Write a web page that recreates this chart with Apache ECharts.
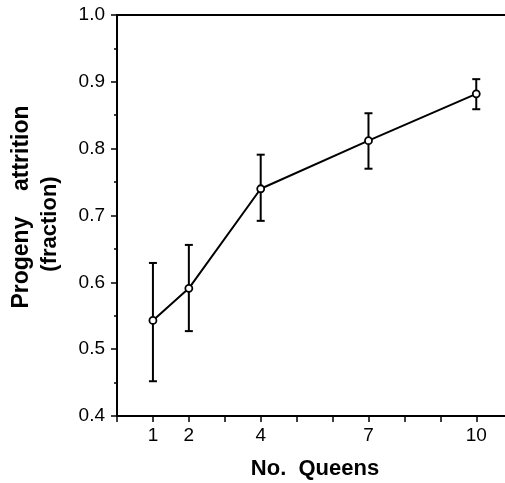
<!DOCTYPE html>
<html>
<head>
<meta charset="utf-8">
<script src="https://cdn.jsdelivr.net/npm/echarts@6/dist/echarts.min.js"></script>
<style>html,body{margin:0;padding:0;background:#fff;}#c{width:505px;height:483px;}</style>
</head>
<body>
<div id="c"></div>
<script>
var queens = [1, 2, 4, 7, 10];
var attrition = [0.543, 0.591, 0.740, 0.812, 0.882];
var errLow = [0.452, 0.527, 0.692, 0.770, 0.859];
var errHigh = [0.629, 0.656, 0.791, 0.853, 0.904];
var xTickLabels = [1, 2, 4, 7, 10];
var xTickMarks = [0, 1, 2, 3, 4, 5, 6, 7, 8, 9, 10];
var xTitle = 'No.  Queens';
var yTitle1 = 'Progeny    attrition';
var yTitle2 = '(fraction)';

var chart = echarts.init(document.getElementById('c'), null, {renderer: 'canvas'});
var FONT = 'Liberation Sans, Arial, Helvetica, sans-serif';
var lineData = queens.map(function (q, i) { return [q, attrition[i]]; });
var errData = queens.map(function (q, i) { return [q, errLow[i], errHigh[i]]; });

var option = {
  backgroundColor: '#fff',
  animation: false,
  grid: {left: 117, right: 0, top: 15, bottom: 67, containLabel: false},
  xAxis: [{
    type: 'value', min: 0, max: 10.8, interval: 1,
    axisLine: {show: true, lineStyle: {color: '#000', width: 2}},
    axisTick: {show: true, length: 6, customValues: xTickMarks, lineStyle: {color: '#000', width: 1.5}},
    splitLine: {show: false},
    axisLabel: {
      margin: 10, color: '#000', fontFamily: FONT, fontSize: 19,
      customValues: xTickLabels,
      formatter: function (v) { return String(v); }
    }
  }, {
    type: 'value', min: 0, max: 10.8, position: 'top',
    axisLine: {show: true, onZero: false, lineStyle: {color: '#000', width: 2}},
    axisTick: {show: false}, axisLabel: {show: false}, splitLine: {show: false}
  }],
  yAxis: {
    type: 'value', min: 0.4, max: 1.0, interval: 0.1,
    axisLine: {show: true, lineStyle: {color: '#000', width: 2}},
    axisTick: {show: true, length: 6, lineStyle: {color: '#000', width: 1.5}},
    minorTick: {show: true, splitNumber: 2, length: 3, lineStyle: {color: '#000', width: 1.5}},
    splitLine: {show: false},
    axisLabel: {
      margin: 12, color: '#000', fontFamily: FONT, fontSize: 19,
      formatter: function (v) { return v.toFixed(1); }
    }
  },
  graphic: [
    {type: 'text', x: 315, y: 469, style: {text: xTitle, fill: '#000', font: 'bold 22px ' + FONT, textAlign: 'center', textVerticalAlign: 'middle'}},
    {type: 'text', x: 22, y: 207, rotation: Math.PI / 2, style: {text: yTitle1, fill: '#000', font: 'bold 23px ' + FONT, textAlign: 'center', textVerticalAlign: 'middle'}},
    {type: 'text', x: 50, y: 224, rotation: Math.PI / 2, style: {text: yTitle2, fill: '#000', font: 'bold 22px ' + FONT, textAlign: 'center', textVerticalAlign: 'middle'}}
  ],
  series: [{
    type: 'custom',
    z: 1,
    data: errData,
    renderItem: function (params, api) {
      var x = api.value(0);
      var lo = api.coord([x, api.value(1)]);
      var hi = api.coord([x, api.value(2)]);
      var w = 4;
      var st = {stroke: '#000', lineWidth: 2};
      return {type: 'group', children: [
        {type: 'line', shape: {x1: lo[0], y1: lo[1], x2: hi[0], y2: hi[1]}, style: st},
        {type: 'line', shape: {x1: lo[0] - w, y1: lo[1], x2: lo[0] + w, y2: lo[1]}, style: st},
        {type: 'line', shape: {x1: hi[0] - w, y1: hi[1], x2: hi[0] + w, y2: hi[1]}, style: st}
      ]};
    }
  }, {
    type: 'line',
    z: 3,
    data: lineData,
    lineStyle: {color: '#000', width: 2},
    symbol: 'circle',
    symbolSize: 7,
    itemStyle: {color: '#fff', borderColor: '#000', borderWidth: 1.8},
    showAllSymbol: true
  }]
};
chart.setOption(option);
</script>
</body>
</html>
